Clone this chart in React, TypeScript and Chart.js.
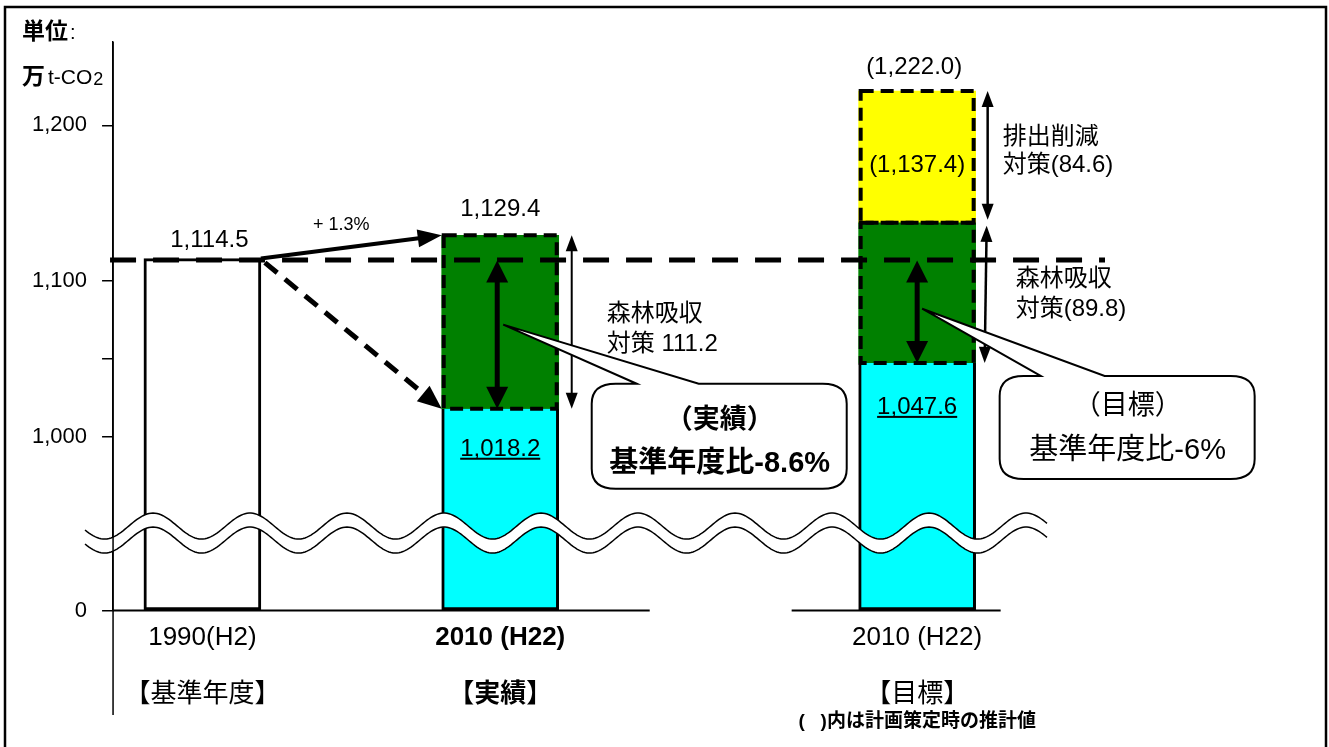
import React, { useEffect, useRef } from 'react';
import { Chart, registerables, LinearScale } from 'chart.js';

// ---------- data ----------
const categories = ['1990(H2)', '2010 (H22)', '2010 (H22)'];
const categoryNotes = ['【基準年度】', '【実績】', '【目標】'];
const baseYearEmissions = [1114.5, null, null];
const netEmissions = [null, 1018.2, 1047.6];
const forestAbsorption = [null, 111.2, 89.8];
const emissionReduction = [null, null, 84.6];
const yTickValues = [0, 1000, 1050, 1100, 1200];
const yTickLabels = ['0', '1,000', '', '1,100', '1,200'];
const unitTitle = '単位';
const unitName = ['万', 't-CO', '2'];
const growthLabel = '+ 1.3%';
const forestLabelActual = ['森林吸収', '対策 111.2'];
const reductionLabelTarget = ['排出削減', '対策(84.6)'];
const forestLabelTarget = ['森林吸収', '対策(89.8)'];
const calloutActual = ['（実績）', '基準年度比-8.6%'];
const calloutTarget = ['（目標）', '基準年度比-6%'];
const footnote = '(   )内は計画策定時の推計値';

// ---------- layout (slots on the category axis) ----------
const SLOT_COUNT = 15;
const categorySlots = [1, 6, 13];
const boldCategory = 1;

function toSlots(arr: any[], fill: any) {
  const out = new Array(SLOT_COUNT).fill(fill);
  categorySlots.forEach((s, i) => (out[s] = arr[i]));
  return out;
}

const FONT = "'Liberation Sans', 'Noto Sans CJK JP', sans-serif";
const font = (size: number, bold = false) => `${bold ? 'bold ' : ''}${size}px ${FONT}`;
const fmt1 = (v: number) =>
  v.toLocaleString('en-US', { minimumFractionDigits: 1, maximumFractionDigits: 1 });

// ---------- broken linear scale ----------
class BrokenLinearScale extends LinearScale {
  static id = 'brokenLinear';
  _geom() {
    const o: any = this.options;
    const h = this.bottom - this.top;
    return { brk: o.breakAt, low: h * o.lowerShare, h };
  }
  getPixelForValue(value: any) {
    if (value === null || value === undefined || isNaN(value)) return NaN;
    const { brk, low, h } = this._geom();
    if (value <= brk) return this.bottom - ((value - this.min) / (brk - this.min)) * low;
    return this.bottom - low - ((value - brk) / (this.max - brk)) * (h - low);
  }
  getValueForPixel(pixel: number) {
    const { brk, low, h } = this._geom();
    const d = this.bottom - pixel;
    if (d <= low) return this.min + (d / low) * (brk - this.min);
    return brk + ((d - low) / (h - low)) * (this.max - brk);
  }
}
Chart.register(...registerables, BrokenLinearScale);

// ---------- drawing helpers ----------
function head(ctx: any, x1: number, y1: number, x2: number, y2: number, len: number, half: number) {
  const a = Math.atan2(y2 - y1, x2 - x1);
  const c = Math.cos(a), s = Math.sin(a);
  ctx.beginPath();
  ctx.moveTo(x2, y2);
  ctx.lineTo(x2 - len * c + half * s, y2 - len * s - half * c);
  ctx.lineTo(x2 - len * c - half * s, y2 - len * s + half * c);
  ctx.closePath();
  ctx.fill();
}
function arrow(ctx: any, x1: number, y1: number, x2: number, y2: number, o: any) {
  const a = Math.atan2(y2 - y1, x2 - x1);
  const c = Math.cos(a), s = Math.sin(a);
  const k = o.len * 0.8;
  ctx.save();
  ctx.strokeStyle = '#000';
  ctx.fillStyle = '#000';
  ctx.lineWidth = o.width;
  ctx.setLineDash(o.dash || []);
  ctx.beginPath();
  ctx.moveTo(o.both ? x1 + k * c : x1, o.both ? y1 + k * s : y1);
  ctx.lineTo(x2 - k * c, y2 - k * s);
  ctx.stroke();
  ctx.setLineDash([]);
  head(ctx, x1, y1, x2, y2, o.len, o.half);
  if (o.both) head(ctx, x2, y2, x1, y1, o.len, o.half);
  ctx.restore();
}
function txt(ctx: any, s: string, x: number, y: number, f: string, align = 'center', base = 'middle') {
  ctx.font = f;
  ctx.textAlign = align;
  ctx.textBaseline = base;
  ctx.fillStyle = '#000';
  ctx.fillText(s, x, y);
}
function underlined(ctx: any, s: string, x: number, yBaseline: number, size: number) {
  txt(ctx, s, x, yBaseline, font(size), 'center', 'alphabetic');
  const w = ctx.measureText(s).width;
  ctx.fillRect(x - w / 2, yBaseline + 2, w, 2);
}
function callout(ctx: any, l: number, t: number, r: number, b: number, tx: number, ty: number, p1: number, p2: number) {
  const rx = 24, ry = 20;
  ctx.save();
  ctx.beginPath();
  ctx.moveTo(p1, t);
  ctx.lineTo(tx, ty);
  ctx.lineTo(p2, t);
  ctx.lineTo(r - rx, t);
  ctx.quadraticCurveTo(r, t, r, t + ry);
  ctx.lineTo(r, b - ry);
  ctx.quadraticCurveTo(r, b, r - rx, b);
  ctx.lineTo(l + rx, b);
  ctx.quadraticCurveTo(l, b, l, b - ry);
  ctx.lineTo(l, t + ry);
  ctx.quadraticCurveTo(l, t, l + rx, t);
  ctx.closePath();
  ctx.fillStyle = '#fff';
  ctx.fill();
  ctx.lineWidth = 2;
  ctx.strokeStyle = '#000';
  ctx.stroke();
  ctx.restore();
}

const annotationPlugin = {
  id: 'annotations',
  afterDatasetsDraw(chart: any) {
    const ctx = chart.ctx;
    const ys = chart.scales.y;
    const ca = chart.chartArea;
    const bar = (ds: number, cat: number) => chart.getDatasetMeta(ds).data[categorySlots[cat]];
    const L = (e: any) => e.x - e.width / 2;
    const R = (e: any) => e.x + e.width / 2;
    const b0 = bar(0, 0);
    const net1 = bar(1, 1), for1 = bar(2, 1);
    const net2 = bar(1, 2), for2 = bar(2, 2), red2 = bar(3, 2);
    const yBase = b0.y;
    const y0 = ys.getPixelForValue(0);

    ctx.save();
    // dashed outlines of the stacked measure segments
    ctx.strokeStyle = '#000';
    ctx.lineWidth = 4;
    ctx.setLineDash([13, 7]);
    for (const e of [for1, red2, for2]) ctx.strokeRect(L(e) + 2, e.y, e.width - 4, e.base - e.y);
    ctx.setLineDash([]);

    // axis break (wave band)
    const yc = ys.getPixelForValue(ys.options.breakAt) + 11;
    const amp = 13, per = 97, gap = 14, xs = 85, xe = 1048, ph = 153;
    const yu = (x: number) => yc - amp * Math.cos((2 * Math.PI * (x - ph)) / per);
    ctx.beginPath();
    ctx.moveTo(xs, yu(xs));
    for (let x = xs; x <= xe; x += 2) ctx.lineTo(x, yu(x));
    for (let x = xe; x >= xs; x -= 2) ctx.lineTo(x, yu(x) + gap);
    ctx.closePath();
    ctx.fillStyle = '#fff';
    ctx.fill();
    ctx.lineWidth = 1.5;
    for (const off of [0, gap]) {
      ctx.beginPath();
      ctx.moveTo(xs, yu(xs) + off);
      for (let x = xs; x <= xe; x += 2) ctx.lineTo(x, yu(x) + off);
      ctx.stroke();
    }

    // y axis line (full length) and broken baseline
    ctx.lineWidth = 1.5;
    ctx.beginPath();
    ctx.moveTo(ca.left, ca.top);
    ctx.lineTo(ca.left, 715);
    ctx.stroke();
    ctx.lineWidth = 2;
    ctx.beginPath();
    ctx.moveTo(ca.left, y0);
    ctx.lineTo(R(net1) + 91, y0);
    ctx.moveTo(L(net2) - 67, y0);
    ctx.lineTo(R(net2) + 25, y0);
    ctx.stroke();

    // base-year level dashed line
    ctx.lineWidth = 5;
    ctx.setLineDash([26, 17]);
    ctx.beginPath();
    ctx.moveTo(ca.left - 3, yBase + 1.5);
    ctx.lineTo(1105, yBase + 1.5);
    ctx.stroke();
    ctx.setLineDash([]);

    // arrows base year -> 2010
    arrow(ctx, R(b0), yBase, L(for1), for1.y, { width: 4, len: 24, half: 9 });
    arrow(ctx, R(b0) + 4, yBase + 4, L(net1), net1.y, { width: 5, len: 24, half: 10, dash: [16, 10] });
    txt(ctx, growthLabel, (R(b0) + L(for1)) / 2 - 10, for1.y - 10, font(18));

    // double arrows
    arrow(ctx, for1.x - 3, yBase + 2, for1.x - 3, net1.y, { width: 5, len: 22, half: 11, both: true });
    arrow(ctx, R(for1) + 13, for1.y, R(for1) + 13, net1.y, { width: 2, len: 16, half: 6, both: true });
    arrow(ctx, for2.x, yBase + 2, for2.x, net2.y, { width: 5, len: 22, half: 11, both: true });
    arrow(ctx, R(red2) + 12, red2.y, R(red2) + 12, for2.y - 3, { width: 2.5, len: 16, half: 6, both: true });
    arrow(ctx, R(red2) + 11, for2.y + 3, R(red2) + 9, net2.y, { width: 2.5, len: 16, half: 6, both: true });

    // callouts
    {
      const l = R(net1) + 33, t = net1.y - 25;
      callout(ctx, l, t, l + 255, t + 105, for1.x + 3, (yBase + net1.y) / 2 - 9, l + 45, l + 107);
      txt(ctx, calloutActual[0], l + 128, t + 37, font(27, true));
      txt(ctx, calloutActual[1], l + 128, t + 80, font(29, true));
    }
    {
      const l = R(net2) + 24, t = net2.y + 13;
      callout(ctx, l, t, l + 255, t + 103, for2.x + 5, (yBase + net2.y) / 2 - 2, l + 41, l + 105);
      txt(ctx, calloutTarget[0], l + 128, t + 31, font(27));
      txt(ctx, calloutTarget[1], l + 128, t + 75, font(29));
    }

    // value labels
    txt(ctx, fmt1(baseYearEmissions[0] as number), b0.x + 7, yBase - 12, font(24), 'center', 'alphabetic');
    const top1 = (netEmissions[1] as number) + (forestAbsorption[1] as number);
    txt(ctx, fmt1(top1), for1.x, for1.y - 19, font(24), 'center', 'alphabetic');
    const mid2 = (netEmissions[2] as number) + (forestAbsorption[2] as number);
    const top2 = mid2 + (emissionReduction[2] as number);
    txt(ctx, '(' + fmt1(top2) + ')', red2.x - 3, red2.y - 17, font(24), 'center', 'alphabetic');
    txt(ctx, '(' + fmt1(mid2) + ')', red2.x, (red2.y + red2.base) / 2 + 8, font(24));
    underlined(ctx, fmt1(netEmissions[1] as number), net1.x, net1.y + 47, 24);
    underlined(ctx, fmt1(netEmissions[2] as number), net2.x, net2.y + 51, 24);

    // measure labels
    {
      const m = (for1.y + for1.base) / 2;
      txt(ctx, forestLabelActual[0], R(for1) + 48, m - 8, font(24), 'left');
      txt(ctx, forestLabelActual[1], R(for1) + 48, m + 22, font(24), 'left');
    }
    {
      const m = (red2.y + red2.base) / 2;
      txt(ctx, reductionLabelTarget[0], R(red2) + 27, m - 20, font(24), 'left');
      txt(ctx, reductionLabelTarget[1], R(red2) + 27, m + 8, font(24), 'left');
    }
    {
      const m = (for2.y + for2.base) / 2;
      txt(ctx, forestLabelTarget[0], R(for2) + 40, m - 14, font(24), 'left');
      txt(ctx, forestLabelTarget[1], R(for2) + 40, m + 16, font(24), 'left');
    }

    // unit title
    txt(ctx, unitTitle, 22, 33, font(23, true), 'left');
    ctx.font = font(23, true);
    const wt = ctx.measureText(unitTitle).width;
    txt(ctx, ':', 22 + wt + 2, 33, font(20), 'left');
    txt(ctx, unitName[0], 22, 78, font(23, true), 'left');
    ctx.font = font(23, true);
    let x = 22 + ctx.measureText(unitName[0]).width + 3;
    txt(ctx, unitName[1], x, 78, font(21), 'left');
    ctx.font = font(21);
    x += ctx.measureText(unitName[1]).width + 1;
    txt(ctx, unitName[2], x, 80, font(18), 'left');

    // footnote
    txt(ctx, footnote, net2.x, 722, font(19, true));
    ctx.restore();
  },
  afterDraw(chart: any) {
    const ctx = chart.ctx;
    ctx.save();
    ctx.strokeStyle = '#000';
    ctx.lineWidth = 2.5;
    ctx.strokeRect(5, 7, 1321, 760);
    ctx.restore();
  },
};

export default function App() {
  const ref = useRef<HTMLCanvasElement>(null);
  useEffect(() => {
    document.body.style.margin = '0';
    const slotLabels = toSlots(categories, '');
    const slotNotes = toSlots(categoryNotes, '');
    const tickFont = (size: number) => (c: any) => ({
      family: FONT,
      size,
      weight: c.index === categorySlots[boldCategory] ? 'bold' : 'normal',
    });
    const chart = new Chart(ref.current as HTMLCanvasElement, {
      type: 'bar',
      data: {
        labels: slotLabels,
        datasets: [
          {
            label: '基準年度',
            data: toSlots(baseYearEmissions, null),
            backgroundColor: '#ffffff',
            borderColor: '#000000',
            borderWidth: 3,
            borderSkipped: false,
          },
          {
            label: '排出量',
            data: toSlots(netEmissions, null),
            backgroundColor: '#00ffff',
            borderColor: '#000000',
            borderWidth: { top: 0, left: 3, right: 3, bottom: 3 },
            borderSkipped: false,
          },
          {
            label: '森林吸収対策',
            data: toSlots(forestAbsorption, null),
            backgroundColor: '#008000',
            borderWidth: 0,
          },
          {
            label: '排出削減対策',
            data: toSlots(emissionReduction, null),
            backgroundColor: '#ffff00',
            borderWidth: 0,
          },
        ],
      } as any,
      options: {
        responsive: false,
        animation: false,
        events: [],
        layout: { padding: { top: 42, left: 17, right: 322.5, bottom: 24 } },
        datasets: { bar: { barThickness: 117 } } as any,
        plugins: { legend: { display: false }, tooltip: { enabled: false } },
        scales: {
          x: {
            type: 'category',
            stacked: true,
            offset: true,
            grid: { display: false, drawTicks: false },
            border: { display: false },
            ticks: { autoSkip: false, maxRotation: 0, padding: 12, color: '#000', font: tickFont(26) },
          },
          x2: {
            type: 'category',
            labels: slotNotes,
            position: 'bottom',
            weight: 1,
            offset: true,
            grid: { display: false, drawTicks: false },
            border: { display: false },
            ticks: { autoSkip: false, maxRotation: 0, padding: 13, color: '#000', font: tickFont(26) },
          },
          y: {
            type: 'brokenLinear',
            stacked: true,
            min: 0,
            max: 1253.4,
            breakAt: 950,
            lowerShare: 0.168,
            afterBuildTicks: (s: any) => {
              s.ticks = yTickValues.map((v) => ({ value: v }));
            },
            ticks: {
              autoSkip: false,
              padding: 15,
              color: '#000',
              font: { family: FONT, size: 22 },
              callback: (_v: any, i: number) => yTickLabels[i],
            },
            grid: { drawOnChartArea: false, tickLength: 11, color: '#000', lineWidth: 1.5 },
            border: { color: '#000', width: 1.5 },
          } as any,
        },
      } as any,
      plugins: [annotationPlugin],
    });
    return () => chart.destroy();
  }, []);
  return <canvas ref={ref} width={1329} height={747} style={{ display: 'block' }} />;
}
